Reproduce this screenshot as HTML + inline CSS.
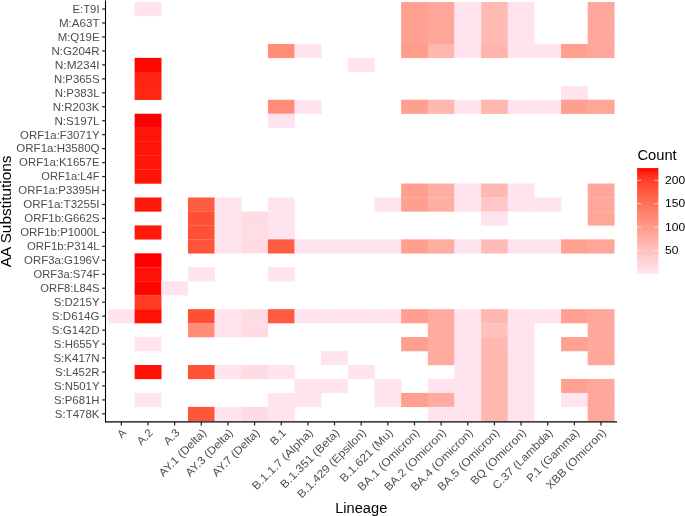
<!DOCTYPE html><html><head><meta charset="utf-8"><style>html,body{margin:0;padding:0;background:#fff;width:685px;height:516px;overflow:hidden}svg{display:block;will-change:transform}text{font-family:"Liberation Sans",sans-serif}</style></head><body>
<svg width="685" height="516" viewBox="0 0 685 516">
<rect x="0" y="0" width="685" height="516" fill="#fff"/>
<rect x="134.65" y="2.04" width="26.85" height="14.16" fill="#FFE3EE"/>
<rect x="401.15" y="2.04" width="26.85" height="14.16" fill="#FFA091"/>
<rect x="427.80" y="2.04" width="26.85" height="14.16" fill="#FFA79A"/>
<rect x="454.45" y="2.04" width="26.85" height="14.16" fill="#FFE3EE"/>
<rect x="481.10" y="2.04" width="26.85" height="14.16" fill="#FFBAB4"/>
<rect x="507.75" y="2.04" width="26.85" height="14.16" fill="#FFE3EE"/>
<rect x="587.70" y="2.04" width="26.85" height="14.16" fill="#FFA79A"/>
<rect x="401.15" y="16.00" width="26.85" height="14.16" fill="#FFA091"/>
<rect x="427.80" y="16.00" width="26.85" height="14.16" fill="#FFA698"/>
<rect x="454.45" y="16.00" width="26.85" height="14.16" fill="#FFE3EE"/>
<rect x="481.10" y="16.00" width="26.85" height="14.16" fill="#FFBAB4"/>
<rect x="507.75" y="16.00" width="26.85" height="14.16" fill="#FFE3EE"/>
<rect x="587.70" y="16.00" width="26.85" height="14.16" fill="#FFA79A"/>
<rect x="401.15" y="29.96" width="26.85" height="14.16" fill="#FFA091"/>
<rect x="427.80" y="29.96" width="26.85" height="14.16" fill="#FFA698"/>
<rect x="454.45" y="29.96" width="26.85" height="14.16" fill="#FFE3EE"/>
<rect x="481.10" y="29.96" width="26.85" height="14.16" fill="#FFBAB4"/>
<rect x="507.75" y="29.96" width="26.85" height="14.16" fill="#FFE3EE"/>
<rect x="587.70" y="29.96" width="26.85" height="14.16" fill="#FFA79A"/>
<rect x="267.90" y="43.92" width="26.85" height="14.16" fill="#FF8D78"/>
<rect x="294.55" y="43.92" width="26.85" height="14.16" fill="#FFE3EE"/>
<rect x="401.15" y="43.92" width="26.85" height="14.16" fill="#FF9D8C"/>
<rect x="427.80" y="43.92" width="26.85" height="14.16" fill="#FFB7AF"/>
<rect x="454.45" y="43.92" width="26.85" height="14.16" fill="#FFE3EE"/>
<rect x="481.10" y="43.92" width="26.85" height="14.16" fill="#FFB5AD"/>
<rect x="507.75" y="43.92" width="26.85" height="14.16" fill="#FFE3EE"/>
<rect x="534.40" y="43.92" width="26.85" height="14.16" fill="#FFE3EE"/>
<rect x="561.05" y="43.92" width="26.85" height="14.16" fill="#FFA091"/>
<rect x="587.70" y="43.92" width="26.85" height="14.16" fill="#FFA79A"/>
<rect x="134.65" y="57.88" width="26.85" height="14.16" fill="#FF0602"/>
<rect x="347.85" y="57.88" width="26.85" height="14.16" fill="#FFE3EE"/>
<rect x="134.65" y="71.84" width="26.85" height="14.16" fill="#FF2411"/>
<rect x="134.65" y="85.80" width="26.85" height="14.16" fill="#FF2613"/>
<rect x="561.05" y="85.80" width="26.85" height="14.16" fill="#FFE3EE"/>
<rect x="267.90" y="99.76" width="26.85" height="14.16" fill="#FF8D78"/>
<rect x="294.55" y="99.76" width="26.85" height="14.16" fill="#FFE3EE"/>
<rect x="401.15" y="99.76" width="26.85" height="14.16" fill="#FF9F8F"/>
<rect x="427.80" y="99.76" width="26.85" height="14.16" fill="#FFB9B2"/>
<rect x="454.45" y="99.76" width="26.85" height="14.16" fill="#FFE3EE"/>
<rect x="481.10" y="99.76" width="26.85" height="14.16" fill="#FFB7AF"/>
<rect x="507.75" y="99.76" width="26.85" height="14.16" fill="#FFE3EE"/>
<rect x="534.40" y="99.76" width="26.85" height="14.16" fill="#FFE3EE"/>
<rect x="561.05" y="99.76" width="26.85" height="14.16" fill="#FF9F8F"/>
<rect x="587.70" y="99.76" width="26.85" height="14.16" fill="#FFA698"/>
<rect x="134.65" y="113.72" width="26.85" height="14.16" fill="#FF0000"/>
<rect x="267.90" y="113.72" width="26.85" height="14.16" fill="#FFE3EE"/>
<rect x="134.65" y="127.68" width="26.85" height="14.16" fill="#FF1508"/>
<rect x="134.65" y="141.64" width="26.85" height="14.16" fill="#FF1508"/>
<rect x="134.65" y="155.60" width="26.85" height="14.16" fill="#FF1508"/>
<rect x="134.65" y="169.56" width="26.85" height="14.16" fill="#FF1508"/>
<rect x="401.15" y="183.52" width="26.85" height="14.16" fill="#FF9F8F"/>
<rect x="427.80" y="183.52" width="26.85" height="14.16" fill="#FFAEA4"/>
<rect x="454.45" y="183.52" width="26.85" height="14.16" fill="#FFE3EE"/>
<rect x="481.10" y="183.52" width="26.85" height="14.16" fill="#FFB9B2"/>
<rect x="507.75" y="183.52" width="26.85" height="14.16" fill="#FFE3EE"/>
<rect x="587.70" y="183.52" width="26.85" height="14.16" fill="#FFA79A"/>
<rect x="134.65" y="197.48" width="26.85" height="14.16" fill="#FF190A"/>
<rect x="187.95" y="197.48" width="26.85" height="14.16" fill="#FF5D42"/>
<rect x="214.60" y="197.48" width="26.85" height="14.16" fill="#FFE3EE"/>
<rect x="267.90" y="197.48" width="26.85" height="14.16" fill="#FFE3EE"/>
<rect x="374.50" y="197.48" width="26.85" height="14.16" fill="#FFE3EE"/>
<rect x="401.15" y="197.48" width="26.85" height="14.16" fill="#FF9F8F"/>
<rect x="427.80" y="197.48" width="26.85" height="14.16" fill="#FFAEA4"/>
<rect x="454.45" y="197.48" width="26.85" height="14.16" fill="#FFE3EE"/>
<rect x="481.10" y="197.48" width="26.85" height="14.16" fill="#FFC6C5"/>
<rect x="507.75" y="197.48" width="26.85" height="14.16" fill="#FFE3EE"/>
<rect x="534.40" y="197.48" width="26.85" height="14.16" fill="#FFE3EE"/>
<rect x="587.70" y="197.48" width="26.85" height="14.16" fill="#FFA79A"/>
<rect x="187.95" y="211.44" width="26.85" height="14.16" fill="#FF4F34"/>
<rect x="214.60" y="211.44" width="26.85" height="14.16" fill="#FFE3EE"/>
<rect x="241.25" y="211.44" width="26.85" height="14.16" fill="#FFDCE4"/>
<rect x="267.90" y="211.44" width="26.85" height="14.16" fill="#FFE3EE"/>
<rect x="481.10" y="211.44" width="26.85" height="14.16" fill="#FFE3EE"/>
<rect x="587.70" y="211.44" width="26.85" height="14.16" fill="#FFA698"/>
<rect x="134.65" y="225.40" width="26.85" height="14.16" fill="#FF190A"/>
<rect x="187.95" y="225.40" width="26.85" height="14.16" fill="#FF4F34"/>
<rect x="214.60" y="225.40" width="26.85" height="14.16" fill="#FFE3EE"/>
<rect x="241.25" y="225.40" width="26.85" height="14.16" fill="#FFDCE4"/>
<rect x="267.90" y="225.40" width="26.85" height="14.16" fill="#FFE3EE"/>
<rect x="187.95" y="239.36" width="26.85" height="14.16" fill="#FF5439"/>
<rect x="214.60" y="239.36" width="26.85" height="14.16" fill="#FFE3EE"/>
<rect x="241.25" y="239.36" width="26.85" height="14.16" fill="#FFDCE4"/>
<rect x="267.90" y="239.36" width="26.85" height="14.16" fill="#FF5D42"/>
<rect x="294.55" y="239.36" width="26.85" height="14.16" fill="#FFE3EE"/>
<rect x="321.20" y="239.36" width="26.85" height="14.16" fill="#FFE3EE"/>
<rect x="347.85" y="239.36" width="26.85" height="14.16" fill="#FFE3EE"/>
<rect x="374.50" y="239.36" width="26.85" height="14.16" fill="#FFE3EE"/>
<rect x="401.15" y="239.36" width="26.85" height="14.16" fill="#FF9F8F"/>
<rect x="427.80" y="239.36" width="26.85" height="14.16" fill="#FFADA1"/>
<rect x="454.45" y="239.36" width="26.85" height="14.16" fill="#FFE3EE"/>
<rect x="481.10" y="239.36" width="26.85" height="14.16" fill="#FFBCB6"/>
<rect x="507.75" y="239.36" width="26.85" height="14.16" fill="#FFE3EE"/>
<rect x="534.40" y="239.36" width="26.85" height="14.16" fill="#FFE3EE"/>
<rect x="561.05" y="239.36" width="26.85" height="14.16" fill="#FFA091"/>
<rect x="587.70" y="239.36" width="26.85" height="14.16" fill="#FFA698"/>
<rect x="134.65" y="253.32" width="26.85" height="14.16" fill="#FF0000"/>
<rect x="134.65" y="267.28" width="26.85" height="14.16" fill="#FF1106"/>
<rect x="187.95" y="267.28" width="26.85" height="14.16" fill="#FFE3EE"/>
<rect x="267.90" y="267.28" width="26.85" height="14.16" fill="#FFE3EE"/>
<rect x="134.65" y="281.24" width="26.85" height="14.16" fill="#FF0602"/>
<rect x="161.30" y="281.24" width="26.85" height="14.16" fill="#FFE3EE"/>
<rect x="134.65" y="295.20" width="26.85" height="14.16" fill="#FF3C23"/>
<rect x="108.00" y="309.16" width="26.85" height="14.16" fill="#FFE3EE"/>
<rect x="134.65" y="309.16" width="26.85" height="14.16" fill="#FF1106"/>
<rect x="187.95" y="309.16" width="26.85" height="14.16" fill="#FF4F34"/>
<rect x="214.60" y="309.16" width="26.85" height="14.16" fill="#FFE3EE"/>
<rect x="241.25" y="309.16" width="26.85" height="14.16" fill="#FFDCE4"/>
<rect x="267.90" y="309.16" width="26.85" height="14.16" fill="#FF5B40"/>
<rect x="294.55" y="309.16" width="26.85" height="14.16" fill="#FFE3EE"/>
<rect x="321.20" y="309.16" width="26.85" height="14.16" fill="#FFE3EE"/>
<rect x="347.85" y="309.16" width="26.85" height="14.16" fill="#FFE3EE"/>
<rect x="374.50" y="309.16" width="26.85" height="14.16" fill="#FFE3EE"/>
<rect x="401.15" y="309.16" width="26.85" height="14.16" fill="#FF9F8F"/>
<rect x="427.80" y="309.16" width="26.85" height="14.16" fill="#FFAB9F"/>
<rect x="454.45" y="309.16" width="26.85" height="14.16" fill="#FFE3EE"/>
<rect x="481.10" y="309.16" width="26.85" height="14.16" fill="#FFB7AF"/>
<rect x="507.75" y="309.16" width="26.85" height="14.16" fill="#FFE3EE"/>
<rect x="534.40" y="309.16" width="26.85" height="14.16" fill="#FFE3EE"/>
<rect x="561.05" y="309.16" width="26.85" height="14.16" fill="#FFA091"/>
<rect x="587.70" y="309.16" width="26.85" height="14.16" fill="#FFA79A"/>
<rect x="187.95" y="323.12" width="26.85" height="14.16" fill="#FF8D78"/>
<rect x="214.60" y="323.12" width="26.85" height="14.16" fill="#FFE3EE"/>
<rect x="241.25" y="323.12" width="26.85" height="14.16" fill="#FFDCE4"/>
<rect x="427.80" y="323.12" width="26.85" height="14.16" fill="#FFAB9F"/>
<rect x="454.45" y="323.12" width="26.85" height="14.16" fill="#FFE3EE"/>
<rect x="481.10" y="323.12" width="26.85" height="14.16" fill="#FFC1BE"/>
<rect x="507.75" y="323.12" width="26.85" height="14.16" fill="#FFE3EE"/>
<rect x="587.70" y="323.12" width="26.85" height="14.16" fill="#FFA79A"/>
<rect x="134.65" y="337.08" width="26.85" height="14.16" fill="#FFE3EE"/>
<rect x="401.15" y="337.08" width="26.85" height="14.16" fill="#FF9F8F"/>
<rect x="427.80" y="337.08" width="26.85" height="14.16" fill="#FFAB9F"/>
<rect x="454.45" y="337.08" width="26.85" height="14.16" fill="#FFE3EE"/>
<rect x="481.10" y="337.08" width="26.85" height="14.16" fill="#FFB7AF"/>
<rect x="507.75" y="337.08" width="26.85" height="14.16" fill="#FFE3EE"/>
<rect x="561.05" y="337.08" width="26.85" height="14.16" fill="#FFA091"/>
<rect x="587.70" y="337.08" width="26.85" height="14.16" fill="#FFA79A"/>
<rect x="321.20" y="351.04" width="26.85" height="14.16" fill="#FFE3EE"/>
<rect x="427.80" y="351.04" width="26.85" height="14.16" fill="#FFAB9F"/>
<rect x="454.45" y="351.04" width="26.85" height="14.16" fill="#FFE3EE"/>
<rect x="481.10" y="351.04" width="26.85" height="14.16" fill="#FFB7AF"/>
<rect x="507.75" y="351.04" width="26.85" height="14.16" fill="#FFE3EE"/>
<rect x="587.70" y="351.04" width="26.85" height="14.16" fill="#FFA79A"/>
<rect x="134.65" y="365.00" width="26.85" height="14.16" fill="#FF1106"/>
<rect x="187.95" y="365.00" width="26.85" height="14.16" fill="#FF5237"/>
<rect x="214.60" y="365.00" width="26.85" height="14.16" fill="#FFE3EE"/>
<rect x="241.25" y="365.00" width="26.85" height="14.16" fill="#FFDCE4"/>
<rect x="267.90" y="365.00" width="26.85" height="14.16" fill="#FFE3EE"/>
<rect x="347.85" y="365.00" width="26.85" height="14.16" fill="#FFE3EE"/>
<rect x="454.45" y="365.00" width="26.85" height="14.16" fill="#FFE3EE"/>
<rect x="481.10" y="365.00" width="26.85" height="14.16" fill="#FFB7AF"/>
<rect x="507.75" y="365.00" width="26.85" height="14.16" fill="#FFE3EE"/>
<rect x="294.55" y="378.96" width="26.85" height="14.16" fill="#FFE3EE"/>
<rect x="321.20" y="378.96" width="26.85" height="14.16" fill="#FFE3EE"/>
<rect x="374.50" y="378.96" width="26.85" height="14.16" fill="#FFE3EE"/>
<rect x="427.80" y="378.96" width="26.85" height="14.16" fill="#FFE3EE"/>
<rect x="454.45" y="378.96" width="26.85" height="14.16" fill="#FFE3EE"/>
<rect x="481.10" y="378.96" width="26.85" height="14.16" fill="#FFB7AF"/>
<rect x="507.75" y="378.96" width="26.85" height="14.16" fill="#FFE3EE"/>
<rect x="561.05" y="378.96" width="26.85" height="14.16" fill="#FFA091"/>
<rect x="587.70" y="378.96" width="26.85" height="14.16" fill="#FFA79A"/>
<rect x="134.65" y="392.92" width="26.85" height="14.16" fill="#FFE3EE"/>
<rect x="267.90" y="392.92" width="26.85" height="14.16" fill="#FFE3EE"/>
<rect x="294.55" y="392.92" width="26.85" height="14.16" fill="#FFE3EE"/>
<rect x="374.50" y="392.92" width="26.85" height="14.16" fill="#FFE3EE"/>
<rect x="401.15" y="392.92" width="26.85" height="14.16" fill="#FF9F8F"/>
<rect x="427.80" y="392.92" width="26.85" height="14.16" fill="#FFAB9F"/>
<rect x="454.45" y="392.92" width="26.85" height="14.16" fill="#FFE3EE"/>
<rect x="481.10" y="392.92" width="26.85" height="14.16" fill="#FFB7AF"/>
<rect x="507.75" y="392.92" width="26.85" height="14.16" fill="#FFE3EE"/>
<rect x="561.05" y="392.92" width="26.85" height="14.16" fill="#FFE3EE"/>
<rect x="587.70" y="392.92" width="26.85" height="14.16" fill="#FFA79A"/>
<rect x="187.95" y="406.88" width="26.85" height="14.16" fill="#FF563B"/>
<rect x="214.60" y="406.88" width="26.85" height="14.16" fill="#FFE3EE"/>
<rect x="241.25" y="406.88" width="26.85" height="14.16" fill="#FFDCE4"/>
<rect x="267.90" y="406.88" width="26.85" height="14.16" fill="#FFE3EE"/>
<rect x="427.80" y="406.88" width="26.85" height="14.16" fill="#FFE3EE"/>
<rect x="454.45" y="406.88" width="26.85" height="14.16" fill="#FFE3EE"/>
<rect x="481.10" y="406.88" width="26.85" height="14.16" fill="#FFB7AF"/>
<rect x="507.75" y="406.88" width="26.85" height="14.16" fill="#FFE3EE"/>
<rect x="587.70" y="406.88" width="26.85" height="14.16" fill="#FFA79A"/>
<line x1="105.5" y1="0.4" x2="105.5" y2="422.44" stroke="#000" stroke-width="1.07"/>
<line x1="104.97" y1="421.9" x2="617.0" y2="421.9" stroke="#000" stroke-width="1.07"/>
<line x1="102.20" y1="9.02" x2="105.5" y2="9.02" stroke="#222" stroke-width="1.25"/>
<line x1="102.20" y1="22.98" x2="105.5" y2="22.98" stroke="#222" stroke-width="1.25"/>
<line x1="102.20" y1="36.94" x2="105.5" y2="36.94" stroke="#222" stroke-width="1.25"/>
<line x1="102.20" y1="50.90" x2="105.5" y2="50.90" stroke="#222" stroke-width="1.25"/>
<line x1="102.20" y1="64.86" x2="105.5" y2="64.86" stroke="#222" stroke-width="1.25"/>
<line x1="102.20" y1="78.82" x2="105.5" y2="78.82" stroke="#222" stroke-width="1.25"/>
<line x1="102.20" y1="92.78" x2="105.5" y2="92.78" stroke="#222" stroke-width="1.25"/>
<line x1="102.20" y1="106.74" x2="105.5" y2="106.74" stroke="#222" stroke-width="1.25"/>
<line x1="102.20" y1="120.70" x2="105.5" y2="120.70" stroke="#222" stroke-width="1.25"/>
<line x1="102.20" y1="134.66" x2="105.5" y2="134.66" stroke="#222" stroke-width="1.25"/>
<line x1="102.20" y1="148.62" x2="105.5" y2="148.62" stroke="#222" stroke-width="1.25"/>
<line x1="102.20" y1="162.58" x2="105.5" y2="162.58" stroke="#222" stroke-width="1.25"/>
<line x1="102.20" y1="176.54" x2="105.5" y2="176.54" stroke="#222" stroke-width="1.25"/>
<line x1="102.20" y1="190.50" x2="105.5" y2="190.50" stroke="#222" stroke-width="1.25"/>
<line x1="102.20" y1="204.46" x2="105.5" y2="204.46" stroke="#222" stroke-width="1.25"/>
<line x1="102.20" y1="218.42" x2="105.5" y2="218.42" stroke="#222" stroke-width="1.25"/>
<line x1="102.20" y1="232.38" x2="105.5" y2="232.38" stroke="#222" stroke-width="1.25"/>
<line x1="102.20" y1="246.34" x2="105.5" y2="246.34" stroke="#222" stroke-width="1.25"/>
<line x1="102.20" y1="260.30" x2="105.5" y2="260.30" stroke="#222" stroke-width="1.25"/>
<line x1="102.20" y1="274.26" x2="105.5" y2="274.26" stroke="#222" stroke-width="1.25"/>
<line x1="102.20" y1="288.22" x2="105.5" y2="288.22" stroke="#222" stroke-width="1.25"/>
<line x1="102.20" y1="302.18" x2="105.5" y2="302.18" stroke="#222" stroke-width="1.25"/>
<line x1="102.20" y1="316.14" x2="105.5" y2="316.14" stroke="#222" stroke-width="1.25"/>
<line x1="102.20" y1="330.10" x2="105.5" y2="330.10" stroke="#222" stroke-width="1.25"/>
<line x1="102.20" y1="344.06" x2="105.5" y2="344.06" stroke="#222" stroke-width="1.25"/>
<line x1="102.20" y1="358.02" x2="105.5" y2="358.02" stroke="#222" stroke-width="1.25"/>
<line x1="102.20" y1="371.98" x2="105.5" y2="371.98" stroke="#222" stroke-width="1.25"/>
<line x1="102.20" y1="385.94" x2="105.5" y2="385.94" stroke="#222" stroke-width="1.25"/>
<line x1="102.20" y1="399.90" x2="105.5" y2="399.90" stroke="#222" stroke-width="1.25"/>
<line x1="102.20" y1="413.86" x2="105.5" y2="413.86" stroke="#222" stroke-width="1.25"/>
<line x1="121.33" y1="421.9" x2="121.33" y2="425.40" stroke="#222" stroke-width="1.25"/>
<line x1="147.97" y1="421.9" x2="147.97" y2="425.40" stroke="#222" stroke-width="1.25"/>
<line x1="174.62" y1="421.9" x2="174.62" y2="425.40" stroke="#222" stroke-width="1.25"/>
<line x1="201.27" y1="421.9" x2="201.27" y2="425.40" stroke="#222" stroke-width="1.25"/>
<line x1="227.93" y1="421.9" x2="227.93" y2="425.40" stroke="#222" stroke-width="1.25"/>
<line x1="254.57" y1="421.9" x2="254.57" y2="425.40" stroke="#222" stroke-width="1.25"/>
<line x1="281.23" y1="421.9" x2="281.23" y2="425.40" stroke="#222" stroke-width="1.25"/>
<line x1="307.88" y1="421.9" x2="307.88" y2="425.40" stroke="#222" stroke-width="1.25"/>
<line x1="334.52" y1="421.9" x2="334.52" y2="425.40" stroke="#222" stroke-width="1.25"/>
<line x1="361.17" y1="421.9" x2="361.17" y2="425.40" stroke="#222" stroke-width="1.25"/>
<line x1="387.82" y1="421.9" x2="387.82" y2="425.40" stroke="#222" stroke-width="1.25"/>
<line x1="414.47" y1="421.9" x2="414.47" y2="425.40" stroke="#222" stroke-width="1.25"/>
<line x1="441.12" y1="421.9" x2="441.12" y2="425.40" stroke="#222" stroke-width="1.25"/>
<line x1="467.77" y1="421.9" x2="467.77" y2="425.40" stroke="#222" stroke-width="1.25"/>
<line x1="494.42" y1="421.9" x2="494.42" y2="425.40" stroke="#222" stroke-width="1.25"/>
<line x1="521.08" y1="421.9" x2="521.08" y2="425.40" stroke="#222" stroke-width="1.25"/>
<line x1="547.72" y1="421.9" x2="547.72" y2="425.40" stroke="#222" stroke-width="1.25"/>
<line x1="574.38" y1="421.9" x2="574.38" y2="425.40" stroke="#222" stroke-width="1.25"/>
<line x1="601.02" y1="421.9" x2="601.02" y2="425.40" stroke="#222" stroke-width="1.25"/>
<text x="99.56" y="12.87" font-size="11.2" fill="#4D4D4D" text-anchor="end" textLength="27.04" lengthAdjust="spacingAndGlyphs">E:T9I</text>
<text x="99.56" y="26.83" font-size="11.2" fill="#4D4D4D" text-anchor="end" textLength="40.58" lengthAdjust="spacingAndGlyphs">M:A63T</text>
<text x="99.56" y="40.79" font-size="11.2" fill="#4D4D4D" text-anchor="end" textLength="41.91" lengthAdjust="spacingAndGlyphs">M:Q19E</text>
<text x="99.56" y="54.75" font-size="11.2" fill="#4D4D4D" text-anchor="end" textLength="48.08" lengthAdjust="spacingAndGlyphs">N:G204R</text>
<text x="99.56" y="68.71" font-size="11.2" fill="#4D4D4D" text-anchor="end" textLength="44.72" lengthAdjust="spacingAndGlyphs">N:M234I</text>
<text x="99.56" y="82.67" font-size="11.2" fill="#4D4D4D" text-anchor="end" textLength="45.58" lengthAdjust="spacingAndGlyphs">N:P365S</text>
<text x="99.56" y="96.63" font-size="11.2" fill="#4D4D4D" text-anchor="end" textLength="44.74" lengthAdjust="spacingAndGlyphs">N:P383L</text>
<text x="99.56" y="110.59" font-size="11.2" fill="#4D4D4D" text-anchor="end" textLength="46.79" lengthAdjust="spacingAndGlyphs">N:R203K</text>
<text x="99.56" y="124.55" font-size="11.2" fill="#4D4D4D" text-anchor="end" textLength="45.08" lengthAdjust="spacingAndGlyphs">N:S197L</text>
<text x="99.56" y="138.51" font-size="11.2" fill="#4D4D4D" text-anchor="end" textLength="79.43" lengthAdjust="spacingAndGlyphs">ORF1a:F3071Y</text>
<text x="99.56" y="152.47" font-size="11.2" fill="#4D4D4D" text-anchor="end" textLength="83.23" lengthAdjust="spacingAndGlyphs">ORF1a:H3580Q</text>
<text x="99.56" y="166.43" font-size="11.2" fill="#4D4D4D" text-anchor="end" textLength="80.52" lengthAdjust="spacingAndGlyphs">ORF1a:K1657E</text>
<text x="99.56" y="180.39" font-size="11.2" fill="#4D4D4D" text-anchor="end" textLength="58.29" lengthAdjust="spacingAndGlyphs">ORF1a:L4F</text>
<text x="99.56" y="194.35" font-size="11.2" fill="#4D4D4D" text-anchor="end" textLength="81.25" lengthAdjust="spacingAndGlyphs">ORF1a:P3395H</text>
<text x="99.56" y="208.31" font-size="11.2" fill="#4D4D4D" text-anchor="end" textLength="76.41" lengthAdjust="spacingAndGlyphs">ORF1a:T3255I</text>
<text x="99.56" y="222.27" font-size="11.2" fill="#4D4D4D" text-anchor="end" textLength="75.22" lengthAdjust="spacingAndGlyphs">ORF1b:G662S</text>
<text x="99.56" y="236.23" font-size="11.2" fill="#4D4D4D" text-anchor="end" textLength="79.39" lengthAdjust="spacingAndGlyphs">ORF1b:P1000L</text>
<text x="99.56" y="250.19" font-size="11.2" fill="#4D4D4D" text-anchor="end" textLength="72.53" lengthAdjust="spacingAndGlyphs">ORF1b:P314L</text>
<text x="99.56" y="264.15" font-size="11.2" fill="#4D4D4D" text-anchor="end" textLength="75.51" lengthAdjust="spacingAndGlyphs">ORF3a:G196V</text>
<text x="99.56" y="278.11" font-size="11.2" fill="#4D4D4D" text-anchor="end" textLength="65.98" lengthAdjust="spacingAndGlyphs">ORF3a:S74F</text>
<text x="99.56" y="292.07" font-size="11.2" fill="#4D4D4D" text-anchor="end" textLength="59.18" lengthAdjust="spacingAndGlyphs">ORF8:L84S</text>
<text x="99.56" y="306.03" font-size="11.2" fill="#4D4D4D" text-anchor="end" textLength="45.90" lengthAdjust="spacingAndGlyphs">S:D215Y</text>
<text x="99.56" y="319.99" font-size="11.2" fill="#4D4D4D" text-anchor="end" textLength="47.67" lengthAdjust="spacingAndGlyphs">S:D614G</text>
<text x="99.56" y="333.95" font-size="11.2" fill="#4D4D4D" text-anchor="end" textLength="47.67" lengthAdjust="spacingAndGlyphs">S:G142D</text>
<text x="99.56" y="347.91" font-size="11.2" fill="#4D4D4D" text-anchor="end" textLength="45.70" lengthAdjust="spacingAndGlyphs">S:H655Y</text>
<text x="99.56" y="361.87" font-size="11.2" fill="#4D4D4D" text-anchor="end" textLength="46.15" lengthAdjust="spacingAndGlyphs">S:K417N</text>
<text x="99.56" y="375.83" font-size="11.2" fill="#4D4D4D" text-anchor="end" textLength="44.51" lengthAdjust="spacingAndGlyphs">S:L452R</text>
<text x="99.56" y="389.79" font-size="11.2" fill="#4D4D4D" text-anchor="end" textLength="45.66" lengthAdjust="spacingAndGlyphs">S:N501Y</text>
<text x="99.56" y="403.75" font-size="11.2" fill="#4D4D4D" text-anchor="end" textLength="45.62" lengthAdjust="spacingAndGlyphs">S:P681H</text>
<text x="99.56" y="417.71" font-size="11.2" fill="#4D4D4D" text-anchor="end" textLength="44.67" lengthAdjust="spacingAndGlyphs">S:T478K</text>
<text transform="translate(121.33,427.84) rotate(-45)" x="0" y="8.03" font-size="11.2" fill="#4D4D4D" text-anchor="end" textLength="7.37" lengthAdjust="spacingAndGlyphs">A</text>
<text transform="translate(147.97,427.84) rotate(-45)" x="0" y="8.03" font-size="11.2" fill="#4D4D4D" text-anchor="end" textLength="17.46" lengthAdjust="spacingAndGlyphs">A.2</text>
<text transform="translate(174.62,427.84) rotate(-45)" x="0" y="8.03" font-size="11.2" fill="#4D4D4D" text-anchor="end" textLength="17.46" lengthAdjust="spacingAndGlyphs">A.3</text>
<text transform="translate(201.27,427.84) rotate(-45)" x="0" y="8.03" font-size="11.2" fill="#4D4D4D" text-anchor="end" textLength="61.77" lengthAdjust="spacingAndGlyphs">AY.1 (Delta)</text>
<text transform="translate(227.93,427.84) rotate(-45)" x="0" y="8.03" font-size="11.2" fill="#4D4D4D" text-anchor="end" textLength="61.77" lengthAdjust="spacingAndGlyphs">AY.3 (Delta)</text>
<text transform="translate(254.57,427.84) rotate(-45)" x="0" y="8.03" font-size="11.2" fill="#4D4D4D" text-anchor="end" textLength="61.77" lengthAdjust="spacingAndGlyphs">AY.7 (Delta)</text>
<text transform="translate(281.23,427.84) rotate(-45)" x="0" y="8.03" font-size="11.2" fill="#4D4D4D" text-anchor="end" textLength="17.67" lengthAdjust="spacingAndGlyphs">B.1</text>
<text transform="translate(307.88,427.84) rotate(-45)" x="0" y="8.03" font-size="11.2" fill="#4D4D4D" text-anchor="end" textLength="80.67" lengthAdjust="spacingAndGlyphs">B.1.1.7 (Alpha)</text>
<text transform="translate(334.52,427.84) rotate(-45)" x="0" y="8.03" font-size="11.2" fill="#4D4D4D" text-anchor="end" textLength="78.32" lengthAdjust="spacingAndGlyphs">B.1.351 (Beta)</text>
<text transform="translate(361.17,427.84) rotate(-45)" x="0" y="8.03" font-size="11.2" fill="#4D4D4D" text-anchor="end" textLength="92.13" lengthAdjust="spacingAndGlyphs">B.1.429 (Epsilon)</text>
<text transform="translate(387.82,427.84) rotate(-45)" x="0" y="8.03" font-size="11.2" fill="#4D4D4D" text-anchor="end" textLength="69.60" lengthAdjust="spacingAndGlyphs">B.1.621 (Mu)</text>
<text transform="translate(414.47,427.84) rotate(-45)" x="0" y="8.03" font-size="11.2" fill="#4D4D4D" text-anchor="end" textLength="82.17" lengthAdjust="spacingAndGlyphs">BA.1 (Omicron)</text>
<text transform="translate(441.12,427.84) rotate(-45)" x="0" y="8.03" font-size="11.2" fill="#4D4D4D" text-anchor="end" textLength="82.17" lengthAdjust="spacingAndGlyphs">BA.2 (Omicron)</text>
<text transform="translate(467.77,427.84) rotate(-45)" x="0" y="8.03" font-size="11.2" fill="#4D4D4D" text-anchor="end" textLength="82.17" lengthAdjust="spacingAndGlyphs">BA.4 (Omicron)</text>
<text transform="translate(494.42,427.84) rotate(-45)" x="0" y="8.03" font-size="11.2" fill="#4D4D4D" text-anchor="end" textLength="82.17" lengthAdjust="spacingAndGlyphs">BA.5 (Omicron)</text>
<text transform="translate(521.08,427.84) rotate(-45)" x="0" y="8.03" font-size="11.2" fill="#4D4D4D" text-anchor="end" textLength="73.19" lengthAdjust="spacingAndGlyphs">BQ (Omicron)</text>
<text transform="translate(547.72,427.84) rotate(-45)" x="0" y="8.03" font-size="11.2" fill="#4D4D4D" text-anchor="end" textLength="79.85" lengthAdjust="spacingAndGlyphs">C.37 (Lambda)</text>
<text transform="translate(574.38,427.84) rotate(-45)" x="0" y="8.03" font-size="11.2" fill="#4D4D4D" text-anchor="end" textLength="69.46" lengthAdjust="spacingAndGlyphs">P.1 (Gamma)</text>
<text transform="translate(601.02,427.84) rotate(-45)" x="0" y="8.03" font-size="11.2" fill="#4D4D4D" text-anchor="end" textLength="79.48" lengthAdjust="spacingAndGlyphs">XBB (Omicron)</text>
<text x="361.25" y="513.4" font-size="14.0" fill="#000" text-anchor="middle" textLength="52.10" lengthAdjust="spacingAndGlyphs">Lineage</text>
<text transform="translate(10.5,211.4) rotate(-90)" x="0" y="0" font-size="14.0" fill="#000" text-anchor="middle" textLength="111.67" lengthAdjust="spacingAndGlyphs">AA Substitutions</text>
<text x="637.5" y="160.3" font-size="14.0" fill="#000" textLength="39.20" lengthAdjust="spacingAndGlyphs">Count</text>
<defs><linearGradient id="g" x1="0" y1="1" x2="0" y2="0">
<stop offset="0.000" stop-color="#FFE6F3"/>
<stop offset="0.050" stop-color="#FFDEE7"/>
<stop offset="0.100" stop-color="#FFD5DA"/>
<stop offset="0.150" stop-color="#FFCDCE"/>
<stop offset="0.200" stop-color="#FFC4C2"/>
<stop offset="0.250" stop-color="#FFBCB6"/>
<stop offset="0.300" stop-color="#FFB3AB"/>
<stop offset="0.350" stop-color="#FFAB9F"/>
<stop offset="0.400" stop-color="#FFA293"/>
<stop offset="0.450" stop-color="#FF9988"/>
<stop offset="0.500" stop-color="#FF907C"/>
<stop offset="0.550" stop-color="#FF8771"/>
<stop offset="0.600" stop-color="#FF7E66"/>
<stop offset="0.650" stop-color="#FF745B"/>
<stop offset="0.700" stop-color="#FF6A4F"/>
<stop offset="0.750" stop-color="#FF5F44"/>
<stop offset="0.800" stop-color="#FF5439"/>
<stop offset="0.850" stop-color="#FF472D"/>
<stop offset="0.900" stop-color="#FF3921"/>
<stop offset="0.950" stop-color="#FF2613"/>
<stop offset="1.000" stop-color="#FF0000"/>
</linearGradient></defs>
<rect x="637.1" y="168.1" width="21.3" height="105.7" fill="url(#g)"/>
<line x1="637.1" y1="250.50" x2="641.36" y2="250.50" stroke="#fff" stroke-width="0.6"/>
<line x1="654.14" y1="250.50" x2="658.4" y2="250.50" stroke="#fff" stroke-width="0.6"/>
<text x="665.0" y="254.15" font-size="11.2" fill="#000" textLength="13.44" lengthAdjust="spacingAndGlyphs">50</text>
<line x1="637.1" y1="227.10" x2="641.36" y2="227.10" stroke="#fff" stroke-width="0.6"/>
<line x1="654.14" y1="227.10" x2="658.4" y2="227.10" stroke="#fff" stroke-width="0.6"/>
<text x="665.0" y="230.75" font-size="11.2" fill="#000" textLength="20.16" lengthAdjust="spacingAndGlyphs">100</text>
<line x1="637.1" y1="203.71" x2="641.36" y2="203.71" stroke="#fff" stroke-width="0.6"/>
<line x1="654.14" y1="203.71" x2="658.4" y2="203.71" stroke="#fff" stroke-width="0.6"/>
<text x="665.0" y="207.36" font-size="11.2" fill="#000" textLength="20.16" lengthAdjust="spacingAndGlyphs">150</text>
<line x1="637.1" y1="180.31" x2="641.36" y2="180.31" stroke="#fff" stroke-width="0.6"/>
<line x1="654.14" y1="180.31" x2="658.4" y2="180.31" stroke="#fff" stroke-width="0.6"/>
<text x="665.0" y="183.96" font-size="11.2" fill="#000" textLength="20.16" lengthAdjust="spacingAndGlyphs">200</text>
</svg></body></html>
